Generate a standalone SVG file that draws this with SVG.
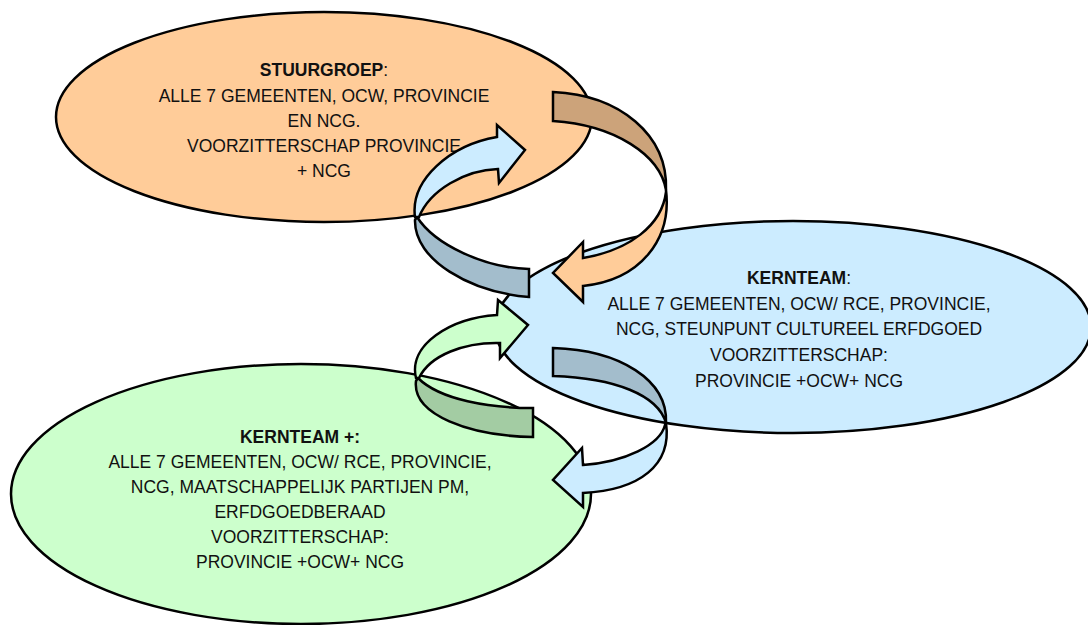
<svg xmlns="http://www.w3.org/2000/svg" width="1088" height="625" viewBox="0 0 1088 625">
<style>
.e{stroke:#000;stroke-width:2.5}
.t{font-family:"Liberation Sans",Arial,sans-serif;font-size:17.5px;fill:#111;text-anchor:middle}
.b{font-weight:bold}
.a{stroke:#000;stroke-width:2.5;stroke-linejoin:miter}
.orange{fill:#FFCC99}
.blue{fill:#CCECFF}
.green{fill:#CCFFCC}
.dbrown{fill:#CCA37A}
.dblue{fill:#A3BDCC}
.dgreen{fill:#A3CCA3}
</style>
<rect width="1088" height="625" fill="#fff"/>
<g id="stuurgroep">
<ellipse class="e orange" cx="324" cy="117" rx="268" ry="105"/>
<text class="t" x="324" y="76"><tspan class="b">STUURGROEP</tspan>:</text>
<text class="t" x="324" y="102">ALLE 7 GEMEENTEN, OCW, PROVINCIE</text>
<text class="t" x="324" y="127">EN NCG.</text>
<text class="t" x="324" y="152">VOORZITTERSCHAP PROVINCIE</text>
<text class="t" x="324" y="177">+ NCG</text>
</g>
<g id="kernteam">
<ellipse class="e blue" cx="793" cy="327" rx="298" ry="106"/>
<text class="t" x="799" y="284"><tspan class="b">KERNTEAM</tspan>:</text>
<text class="t" x="799" y="310">ALLE 7 GEMEENTEN, OCW/ RCE, PROVINCIE,</text>
<text class="t" x="799" y="335">NCG, STEUNPUNT CULTUREEL ERFDGOED</text>
<text class="t" x="799" y="361">VOORZITTERSCHAP:</text>
<text class="t" x="799" y="387">PROVINCIE +OCW+ NCG</text>
</g>
<g id="kernteam-plus">
<ellipse class="e green" cx="301" cy="494" rx="290" ry="130"/>
<text class="t b" x="300" y="443">KERNTEAM +:</text>
<text class="t" x="300" y="468">ALLE 7 GEMEENTEN, OCW/ RCE, PROVINCIE,</text>
<text class="t" x="300" y="493">NCG, MAATSCHAPPELIJK PARTIJEN PM,</text>
<text class="t" x="300" y="518">ERFDGOEDBERAAD</text>
<text class="t" x="300" y="543">VOORZITTERSCHAP:</text>
<text class="t" x="300" y="568">PROVINCIE +OCW+ NCG</text>
</g>
<g id="connectors">
<g id="arrow-kernteam-to-stuurgroep">
<path class="a dblue" d="M417,217 C435,245 485,268 529,269 L529,297 C470,292 414,260 415,220 Z"/>
<path class="a blue" d="M415,217 C410,180 450,145 497,137 L497,125 L525,150 L499,183 L498,169 C465,170 430,190 419,217 Z"/>
</g>
<g id="arrow-stuurgroep-to-kernteam">
<path class="a dbrown" d="M553,92 C620,95 668,135 666,190 C660,155 615,125 553,121 Z"/>
<path class="a orange" d="M666,190 C672,240 640,280 583,286 L583,302 L553,273 L583,242 L583,258 C630,250 662,225 666,192 Z"/>
</g>
<g id="arrow-kernteamplus-to-kernteam">
<path class="a dgreen" d="M418,378 C440,400 490,408 533,408 L533,437 C470,436 412,415 416,381 Z"/>
<path class="a green" d="M416,378 C408,345 450,318 497,315 L498,300 L528,325 L500,358 L500,343 C465,342 430,355 419,378 Z"/>
</g>
<g id="arrow-kernteam-to-kernteamplus">
<path class="a dblue" d="M553,348 C620,350 668,380 666,423 C658,395 615,378 553,376 Z"/>
<path class="a blue" d="M666,423 C672,465 640,490 583,493 L583,507 L553,480 L582,448 L583,465 C625,462 660,445 665,425 Z"/>
</g>
</g>
</svg>
